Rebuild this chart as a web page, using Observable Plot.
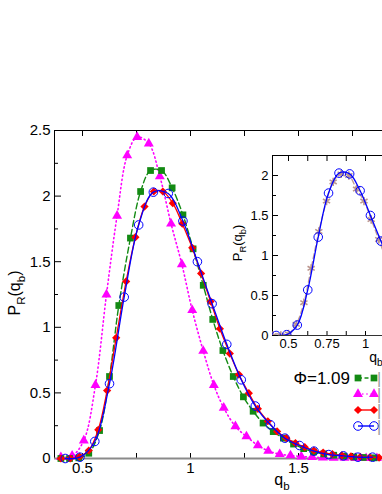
<!DOCTYPE html>
<html><head><meta charset="utf-8">
<script src="https://cdn.jsdelivr.net/npm/d3@7"></script>
<script src="https://cdn.jsdelivr.net/npm/@observablehq/plot@0.6"></script>
<style>
body{margin:0;background:#fff;overflow:hidden}
#chart{position:relative;width:382px;height:494px;font-family:"Liberation Sans",Arial,sans-serif}
#chart svg{position:absolute;left:0;top:0;overflow:visible}
</style></head><body><div id="chart"></div>
<script>
// ---- data ----
const qMag = [0.40,0.452,0.506,0.56,0.611,0.66,0.707,0.753,0.807,0.858,0.91,0.96,1.008,1.059,1.108,1.154,1.208,1.259,1.312,1.36,1.413,1.463,1.513,1.563,1.613,1.663,1.713,1.763,1.813,1.863];
const pMag = [0.01,0.02,0.137,0.56,1.25,1.85,2.31,2.45,2.40,2.15,1.79,1.48,1.13,0.82,0.56,0.386,0.245,0.168,0.10,0.058,0.033,0.023,0.015,0.01,0.007,0.005,0.004,0.003,0.002,0.002];
const qGreen = [0.40,0.44,0.483,0.529,0.579,0.625,0.668,0.722,0.769,0.815,0.866,0.915,0.965,1.012,1.059,1.103,1.15,1.198,1.245,1.29,1.336,1.383,1.43,1.477,1.524,1.57,1.617,1.663,1.71,1.756,1.80,1.85];
const pGreen = [0,0,0.005,0.04,0.213,0.625,1.166,1.68,2.035,2.195,2.195,2.063,1.857,1.598,1.32,1.06,0.823,0.625,0.47,0.36,0.27,0.205,0.155,0.11,0.075,0.05,0.035,0.025,0.018,0.012,0.008,0.005];
const qRed = [0.40,0.443,0.486,0.529,0.573,0.614,0.656,0.702,0.745,0.787,0.83,0.872,0.918,0.962,1.008,1.049,1.093,1.136,1.182,1.224,1.27,1.312,1.358,1.401,1.444,1.486,1.529,1.571,1.614,1.657,1.70,1.743,1.786,1.83,1.873];
const pRed = [0,0,0.015,0.061,0.219,0.518,0.92,1.35,1.687,1.92,2.035,2.035,1.946,1.79,1.606,1.41,1.197,0.989,0.80,0.64,0.498,0.379,0.284,0.206,0.155,0.117,0.086,0.061,0.045,0.033,0.024,0.017,0.012,0.009,0.007];
const qBlue = [0.42,0.488,0.557,0.625,0.693,0.76,0.828,0.897,0.965,1.032,1.10,1.168,1.235,1.30,1.37,1.437,1.505,1.572,1.64,1.708,1.775,1.843];
const pBlue = [0,0.01,0.13,0.57,1.23,1.78,2.03,2.02,1.81,1.50,1.18,0.87,0.60,0.40,0.257,0.155,0.099,0.056,0.03,0.02,0.01,0.01];
const qStar = [0.40,0.45,0.50,0.55,0.60,0.647,0.697,0.747,0.79,0.842,0.892,0.942,0.99,1.037,1.086,1.135];
const pStar = [0,0,0.02,0.14,0.41,0.84,1.30,1.68,1.92,2.02,2.0,1.83,1.68,1.45,1.2,0.95];

const xTickLabels = [0.5, 1, 1.5];
const xTicksMain = [0.5, 0.75, 1, 1.25, 1.5, 1.75];
const yTickLabels = [0, 0.5, 1, 1.5, 2, 2.5];
const yTicksMinor = [0.25, 0.75, 1.25, 1.75, 2.25];
const insetXTickLabels = [0.5, 0.75, 1];
const insetXTicks = [0.5, 0.625, 0.75, 0.875, 1];
const insetYTickLabels = [0, 0.5, 1, 1.5, 2];
const insetYTicksMinor = [0.25, 0.75, 1.25, 1.75];
const legendLabels = ["Φ=1.09", "", "", ""];

const zip = (q, p) => q.map((x, i) => ({q: x, p: p[i]}));
const mag = zip(qMag, pMag), green = zip(qGreen, pGreen), red = zip(qRed, pRed), blue = zip(qBlue, pBlue), star = zip(qStar, pStar);

const W = 382, H = 494;
const font = "Liberation Sans, Arial, sans-serif";
const fmt = d => String(d);

// ---- main plot ----
const mL = 54, mT = 130, mB = 36, mR = 0;
const pw = W - mL - mR, ph = H - mT - mB;
const mainPlot = Plot.plot({
  width: W, height: H,
  marginLeft: mL, marginTop: mT, marginBottom: mB, marginRight: mR,
  x: {domain: [0.5 - 28/216, 0.5 + 300/216]},
  y: {domain: [0, 2.5]},
  style: {fontFamily: font, fontSize: "15px", background: "white", color: "black", overflow: "visible"},
  marks: [
    Plot.axisX(xTickLabels, {anchor: "bottom", tickSize: 0, tickPadding: 4, tickFormat: fmt, label: null, fontSize: 15}),
    Plot.axisY(yTickLabels, {anchor: "left", tickSize: 0, tickPadding: 4, tickFormat: fmt, label: null, fontSize: 15}),
    Plot.ruleX([0.5 - 28/216], {stroke: "black"}),
    Plot.ruleY([2.5], {stroke: "black"}),
    Plot.tickY(yTickLabels, {y: d => d, insetRight: pw - 7, stroke: "black"}),
    Plot.tickY(yTicksMinor, {y: d => d, insetRight: pw - 4, stroke: "black"}),
    Plot.tickX(xTicksMain, {x: d => d, insetBottom: ph - 6, stroke: "black"}),
    Plot.tickX(xTicksMain, {x: d => d, insetTop: ph - 5, stroke: "black"}),
    Plot.ruleY([0], {stroke: "#8a8a8a", strokeWidth: 2}),
    Plot.line(mag, {x: "q", y: "p", stroke: "#ff00ff", strokeWidth: 1.6, strokeDasharray: "1.2,3", strokeLinecap: "round", curve: "catmull-rom"}),
    Plot.dot(mag, {x: "q", y: "p", symbol: "triangle", r: 3.7, fill: "#ff00ff"}),
    Plot.line(green, {x: "q", y: "p", stroke: "#138a13", strokeWidth: 1.4, strokeDasharray: "6,3", curve: "catmull-rom"}),
    Plot.dot(green, {x: "q", y: "p", symbol: "square", r: 3.8, fill: "#138a13"}),
    Plot.line(red, {x: "q", y: "p", stroke: "#ff0000", strokeWidth: 1.3, curve: "catmull-rom"}),
    Plot.dot(red, {x: "q", y: "p", symbol: "diamond2", r: 3.7, fill: "#ff0000"}),
    Plot.line(blue, {x: "q", y: "p", stroke: "#0000ff", strokeWidth: 1.3, curve: "catmull-rom"}),
    Plot.dot(blue, {x: "q", y: "p", symbol: "circle", r: 4.3, fill: "none", stroke: "#0000ff", strokeWidth: 1})
  ]
});

// ---- inset ----
const iL = 272, iT = 155, iB = 159, iR = 0;
const ipw = W - iL - iR, iph = H - iT - iB;
const insetPlot = Plot.plot({
  width: W, height: H,
  marginLeft: iL, marginTop: iT, marginBottom: iB, marginRight: iR,
  x: {domain: [0.5 - 16/154, 0.5 + 94/154]},
  y: {domain: [0, 2.25]},
  style: {fontFamily: font, fontSize: "13px", background: "transparent", color: "black", overflow: "visible"},
  marks: [
    Plot.frame({fill: "white", stroke: "none"}),
    Plot.axisX(insetXTickLabels, {anchor: "bottom", tickSize: 0, tickPadding: 3, tickFormat: fmt, label: null, fontSize: 13}),
    Plot.axisY(insetYTickLabels, {anchor: "left", tickSize: 0, tickPadding: 4, tickFormat: fmt, label: null, fontSize: 13}),
    Plot.ruleX([0.5 - 16/154], {stroke: "black"}),
    Plot.ruleY([2.25], {stroke: "black"}),
    Plot.ruleY([0], {stroke: "#333"}),
    Plot.tickY(insetYTickLabels, {y: d => d, insetRight: ipw - 6, stroke: "black"}),
    Plot.tickY(insetYTicksMinor, {y: d => d, insetRight: ipw - 4, stroke: "black"}),
    Plot.tickX(insetXTicks, {x: d => d, insetBottom: iph - 6, stroke: "black"}),
    Plot.tickX(insetXTicks, {x: d => d, insetTop: iph - 4, stroke: "black"}),
    Plot.line(star, {x: "q", y: "p", stroke: "#c29c94", strokeWidth: 1.3, strokeDasharray: "5,3", curve: "catmull-rom", clip: "frame"}),
    Plot.dot(star, {x: "q", y: "p", symbol: "asterisk", r: 3.9, stroke: "#bb968e", strokeWidth: 1.6, clip: "frame"}),
    Plot.line(blue, {x: "q", y: "p", stroke: "#0000ff", strokeWidth: 1.3, curve: "catmull-rom", clip: "frame"}),
    Plot.dot(blue, {x: "q", y: "p", symbol: "circle", r: 4.3, fill: "none", stroke: "#0000ff", strokeWidth: 1, clip: "frame"})
  ]
});

const chart = document.getElementById("chart");
chart.appendChild(mainPlot);
chart.appendChild(insetPlot);

// ---- axis titles with subscripts ----
function pLabel(g, x, y, size, rotate) {
  const t = g.append("text").attr("font-family", font).attr("font-size", size).attr("fill", "black")
    .attr("text-anchor", "middle")
    .attr("transform", `translate(${x},${y})` + (rotate ? " rotate(-90)" : ""));
  t.append("tspan").text("P");
  t.append("tspan").attr("font-size", size * 0.72).attr("dy", size * 0.3).text("R");
  t.append("tspan").attr("dy", -size * 0.3).text("(q");
  t.append("tspan").attr("font-size", size * 0.72).attr("dy", size * 0.3).text("b");
  t.append("tspan").attr("dy", -size * 0.3).text(")");
}
function qLabel(g, x, y, size) {
  const t = g.append("text").attr("font-family", font).attr("font-size", size).attr("fill", "black")
    .attr("text-anchor", "middle").attr("x", x).attr("y", y);
  t.append("tspan").text("q");
  t.append("tspan").attr("font-size", size * 0.72).attr("dy", size * 0.3).text("b");
}
const gm = d3.select(mainPlot).append("g");
pLabel(gm, 20, 293, 16, true);
qLabel(gm, 282, 485, 16);
const gi = d3.select(insetPlot).append("g");
pLabel(gi, 242, 243, 13, true);
qLabel(gi, 376, 362, 14);

// ---- legend ----
const legendRows = [
  {fill: "#138a13", stroke: "#138a13", dash: "4,2.5", symbol: d3.symbolSquare, r: 3.8, open: false},
  {fill: "#ff00ff", stroke: "#ff00ff", dash: "1.2,3", symbol: d3.symbolTriangle, r: 3.7, open: false},
  {fill: "#ff0000", stroke: "#ff0000", dash: null, symbol: d3.symbolDiamond2, r: 3.7, open: false},
  {fill: "none", stroke: "#0000ff", dash: null, symbol: d3.symbolCircle, r: 4.3, open: true}
];
const gl = d3.select(insetPlot).append("g");
legendRows.forEach((row, i) => {
  const y = 378 + i * 16;
  gl.append("line").attr("x1", 358).attr("x2", 374).attr("y1", y).attr("y2", y)
    .attr("stroke", row.stroke).attr("stroke-width", 1.4).attr("stroke-dasharray", row.dash);
  [358, 374].forEach(x => {
    gl.append("path").attr("d", d3.symbol(row.symbol, Math.PI * row.r * row.r)())
      .attr("transform", `translate(${x},${y})`)
      .attr("fill", row.fill).attr("stroke", row.open ? row.stroke : "none").attr("stroke-width", 1);
  });
  if (legendLabels[i]) {
    gl.append("text").attr("x", 350).attr("y", y + 6).attr("text-anchor", "end")
      .attr("font-family", font).attr("font-size", 17).attr("fill", "black").text(legendLabels[i]);
  }
  gl.append("text").attr("x", 379).attr("y", y + 6).attr("font-family", font).attr("font-size", 16)
    .attr("fill", "#9a9a9a").text("|");
});
</script></body></html>
